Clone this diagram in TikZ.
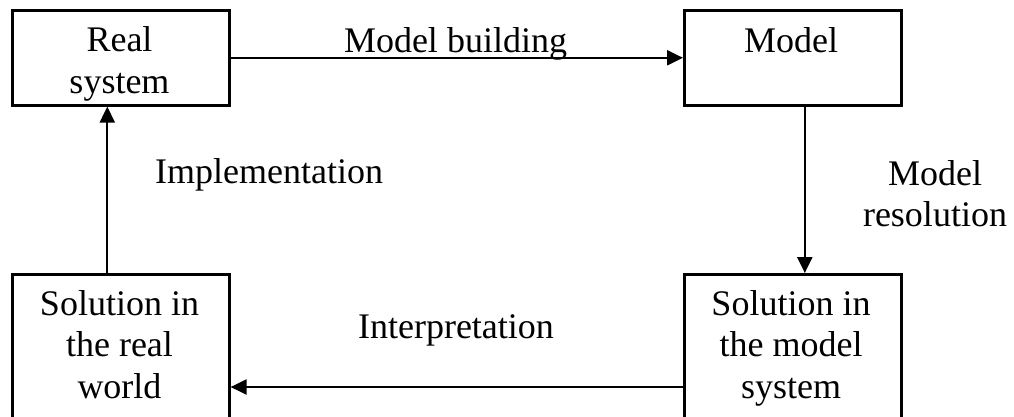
\documentclass[tikz,border=0pt]{standalone}
\usepackage{fontspec}
\setmainfont{Liberation Serif}
\usetikzlibrary{arrows.meta}
\begin{document}
\begin{tikzpicture}[x=1pt,y=-1pt,
  box/.style={draw, line width=2.6pt, minimum width=217pt, inner sep=0pt},
  txt/.style={font=\fontsize{36}{41.5}\selectfont, align=center, inner sep=0pt},
  arr/.style={line width=2.2pt, -{Triangle[length=16pt,width=15pt]}}]
\useasboundingbox (0,0) rectangle (1014,416);
\clip (0,0) rectangle (1014,416);

% the four stages
\node[box, minimum height=95pt, anchor=north west] (rs) at (11,9) {};
\node[box, minimum height=95pt, anchor=north west] (m) at (683,9) {};
\node[box, minimum height=170pt, anchor=north west] (sr) at (11,273) {};
\node[box, minimum height=170pt, anchor=north west] (sm) at (683,273) {};

% box texts, placed by the baseline of their last line
\node[txt, anchor=base] (trs) at (119.5,93) {Real\\system};
\node[txt, anchor=base] (tm) at (791,52) {Model};
\node[txt, anchor=base] (tsr) at (119.5,398) {Solution in\\the real\\world};
\node[txt, anchor=base] (tsm) at (791,398) {Solution in\\the model\\system};

% the cycle
\draw[arr] (rs.east) -- (m.west);
\draw[arr] ([xshift=12pt]m.south) -- ([xshift=12pt]sm.north);
\draw[arr] (sm.west |- 0,387) -- (sr.east |- 0,387);
\draw[arr] ([xshift=-13.5pt]sr.north) -- ([xshift=-13.5pt]rs.south);

\node[txt, anchor=base] (lmb) at (455.5,52) {Model building};
\node[txt, anchor=base] (lmr) at (935,226.5) {Model\\resolution};
\node[txt, anchor=base] (lin) at (456,338) {Interpretation};
\node[txt, anchor=base] (lim) at (269,183) {Implementation};
\end{tikzpicture}
\end{document}
